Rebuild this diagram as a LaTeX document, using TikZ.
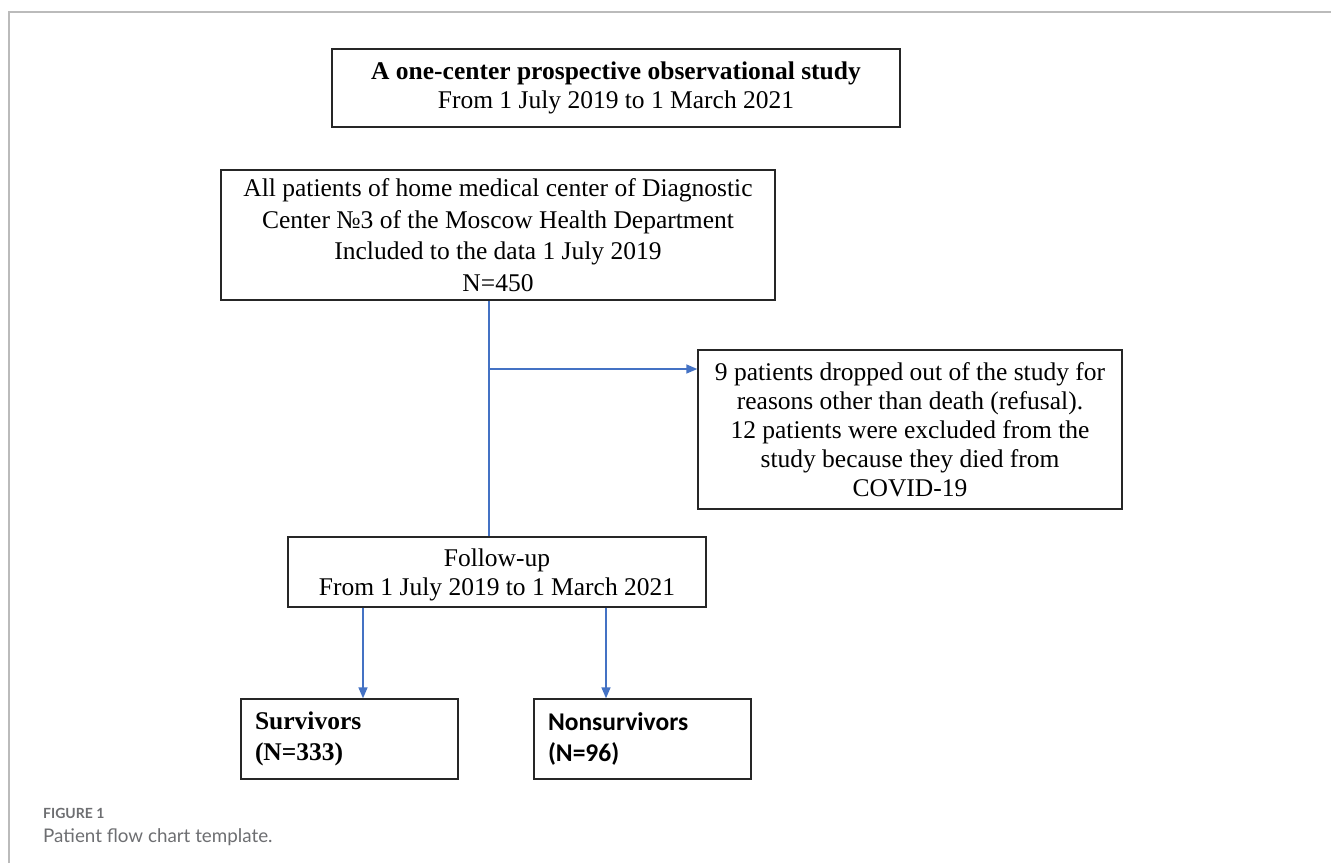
\documentclass[tikz,border=0pt]{standalone}
\usepackage{fontspec}
\setmainfont{Liberation Serif}
\newfontfamily\calibri{Carlito}
\newfontfamily\capfont{Lato}
\usetikzlibrary{arrows.meta}
\definecolor{arrowblue}{HTML}{4472C4}
\definecolor{framegray}{HTML}{BBBBBB}
\definecolor{capgray}{HTML}{6D6E71}
\begin{document}
\begin{tikzpicture}[x=1pt,y=-1pt,
  box/.style={draw=black!85, line width=1.4pt, inner sep=0pt, align=center,
    font=\fontsize{25.5}{29}\selectfont},
  conn/.style={draw=arrowblue, line width=1.5pt},
  arr/.style={conn, -{Triangle[length=11pt,width=9pt]}}]
\useasboundingbox (0,0) rectangle (1331,863);
\draw[framegray, line width=2pt] (9,863) -- (9,12) -- (1331,12);

\node[box, minimum width=568pt, minimum height=78pt] (study) at (616,88)
  {{\bfseries A one-center prospective observational study}\\From 1 July 2019 to 1 March 2021};
\node[box, minimum width=554pt, minimum height=130pt, font=\fontsize{25.5}{31.5}\selectfont] (all) at (498,235)
  {All patients of home medical center of Diagnostic\\Center №3 of the Moscow Health Department\\Included to the data 1 July 2019\\N=450};
\node[box, minimum width=424pt, minimum height=159pt] (excl) at (910,429.5)
  {9 patients dropped out of the study for\\reasons other than death (refusal).\\12 patients were excluded from the\\study because they died from\\COVID-19};
\node[box, minimum width=418pt, minimum height=70pt] (follow) at (497,572)
  {\rule{0pt}{24pt}Follow-up\\From 1 July 2019 to 1 March 2021};
\node[box, minimum width=217pt, minimum height=80pt, text width=189pt, align=left,
  font=\fontsize{25.5}{31}\selectfont\bfseries] (surv) at (349.5,739)
  {Survivors\\(N=333)};
\node[box, minimum width=217pt, minimum height=80pt, text width=189pt, align=left,
  font=\fontsize{25.5}{31}\selectfont\calibri\bfseries] (nonsurv) at (642.5,739)
  {Nonsurvivors\\(N=96)};

\coordinate (vx) at (489,0);
\coordinate (br) at (489,369);
\coordinate (ax1) at (363,0);
\coordinate (ax2) at (606,0);
\draw[conn] (all.south -| vx) -- (follow.north -| vx);
\draw[arr] (br) -- (br -| excl.west);
\draw[arr] (follow.south -| ax1) -- (surv.north -| ax1);
\draw[arr] (follow.south -| ax2) -- (nonsurv.north -| ax2);

\node[anchor=base west, inner sep=0pt, text=capgray, font=\capfont\bfseries\fontsize{14}{16}\selectfont] (figlabel) at (43,818) {FIGURE 1};
\node[anchor=base west, inner sep=0pt, text=capgray, font=\capfont\fontsize{18.8}{22}\selectfont] (figcap) at (43,842) {Patient flow chart template.};
\end{tikzpicture}
\end{document}
